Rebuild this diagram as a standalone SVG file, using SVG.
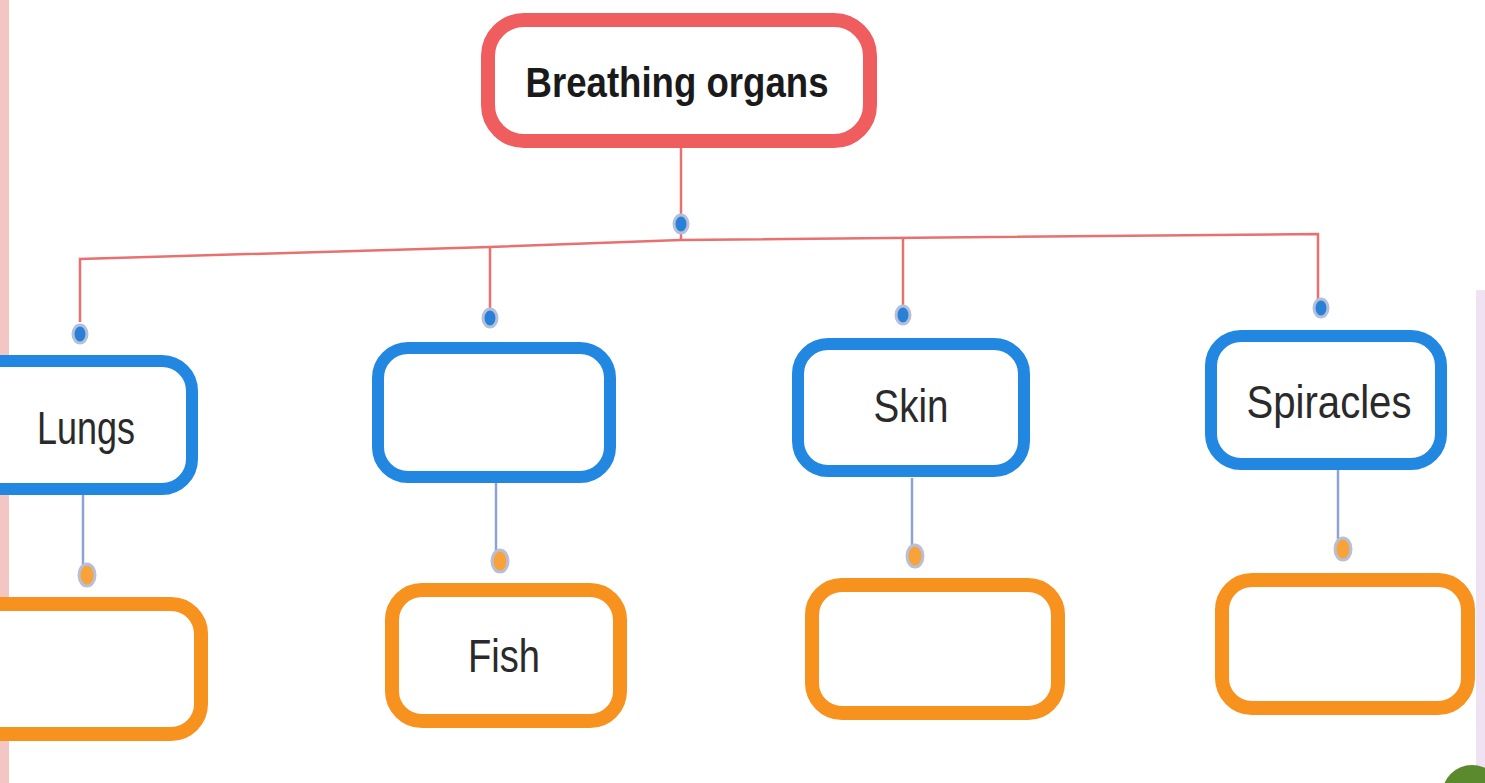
<svg xmlns="http://www.w3.org/2000/svg" width="1485" height="783" viewBox="0 0 1485 783">
<style>
.bg{fill:#ffffff}
.red{fill:#ffffff;stroke:#ef5d5f;stroke-width:14}
.blue{fill:#ffffff;stroke:#2187e0;stroke-width:12}
.orange{fill:#ffffff;stroke:#f7921e;stroke-width:14}
.lbl{font-family:"Liberation Sans",Arial,sans-serif;font-size:47px;fill:#2a2a2a;text-anchor:middle}
.title{font-family:"Liberation Sans",Arial,sans-serif;font-size:42px;font-weight:bold;fill:#1a1a1a;text-anchor:middle}
.rline{fill:none;stroke:#e8706f;stroke-width:2.5}
.bline{fill:none;stroke:#8fa3d2;stroke-width:2.5}
.bdot{fill:#2a80d6;stroke:#b3c0dc;stroke-width:3}
.odot{fill:#f8a23a;stroke:#b8bfd6;stroke-width:3}
</style>
<rect class="bg" x="0" y="0" width="1485" height="783"/>
<rect x="0" y="0" width="9" height="783" fill="#f3c6c4"/>
<rect x="1476" y="290" width="9" height="493" fill="#efe2f2"/>
<circle cx="1472" cy="795" r="30" fill="#5a8a2c"/>
<g id="connectors">
  <path class="rline" d="M681 148 V240"/>
  <path class="rline" d="M80 322 V259 L490 247 L681 240 L1318 234 V300"/>
  <path class="rline" d="M490 247 V310"/>
  <path class="rline" d="M903 238 V306"/>
  <path class="bline" d="M83 495 V565"/>
  <path class="bline" d="M496 483 V551"/>
  <path class="bline" d="M912 478 V546"/>
  <path class="bline" d="M1338 470 V539"/>
  <ellipse class="bdot" cx="681" cy="224" rx="7" ry="9"/>
  <ellipse class="bdot" cx="80" cy="334" rx="7" ry="9"/>
  <ellipse class="bdot" cx="490" cy="318" rx="7" ry="9"/>
  <ellipse class="bdot" cx="903" cy="315" rx="7" ry="9"/>
  <ellipse class="bdot" cx="1321" cy="308" rx="7" ry="9"/>
  <ellipse class="odot" cx="87" cy="575" rx="8" ry="11"/>
  <ellipse class="odot" cx="500" cy="561" rx="8" ry="11"/>
  <ellipse class="odot" cx="915" cy="556" rx="8" ry="11"/>
  <ellipse class="odot" cx="1343" cy="549" rx="8" ry="11"/>
</g>
<g id="node-root">
  <rect class="red" x="488" y="20" width="382" height="121" rx="36"/>
  <text class="title" x="677" y="97" textLength="303" lengthAdjust="spacingAndGlyphs">Breathing organs</text>
</g>
<g id="node-lungs">
  <rect class="blue" x="-40" y="361" width="232" height="128" rx="30"/>
  <text class="lbl" x="86" y="444" textLength="98" lengthAdjust="spacingAndGlyphs">Lungs</text>
</g>
<g id="node-blank1">
  <rect class="blue" x="378" y="348" width="232" height="129" rx="30"/>
</g>
<g id="node-skin">
  <rect class="blue" x="798" y="344" width="226" height="127" rx="30"/>
  <text class="lbl" x="911" y="422" textLength="75" lengthAdjust="spacingAndGlyphs">Skin</text>
</g>
<g id="node-spiracles">
  <rect class="blue" x="1211" y="336" width="230" height="128" rx="30"/>
  <text class="lbl" x="1329" y="418" textLength="165" lengthAdjust="spacingAndGlyphs">Spiracles</text>
</g>
<g id="node-o1">
  <rect class="orange" x="-40" y="604" width="241" height="130" rx="30"/>
</g>
<g id="node-fish">
  <rect class="orange" x="392" y="590" width="228" height="131" rx="30"/>
  <text class="lbl" x="504" y="672" textLength="72" lengthAdjust="spacingAndGlyphs">Fish</text>
</g>
<g id="node-o3">
  <rect class="orange" x="812" y="585" width="246" height="128" rx="30"/>
</g>
<g id="node-o4">
  <rect class="orange" x="1222" y="580" width="246" height="128" rx="30"/>
</g>
</svg>
